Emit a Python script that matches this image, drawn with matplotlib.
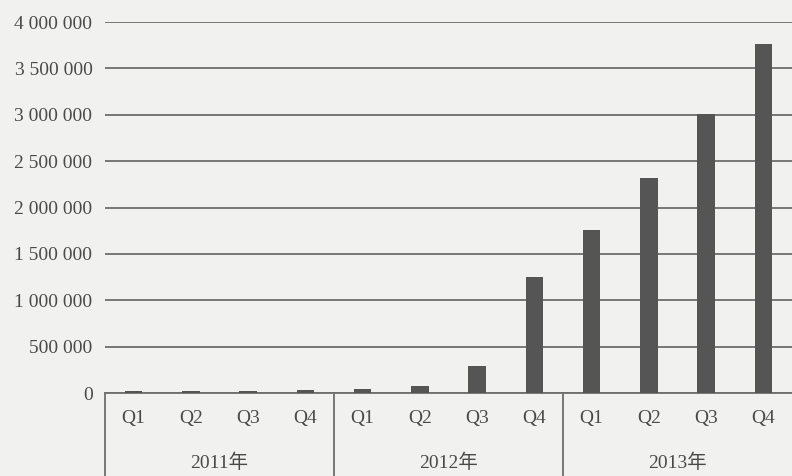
import matplotlib.pyplot as plt
from matplotlib.ticker import FuncFormatter

# data
years = ['2011年', '2012年', '2013年']
quarters = ['Q1', 'Q2', 'Q3', 'Q4']
values = [20000, 20000, 20000, 30000,
          43000, 75000, 295000, 1250000,
          1755000, 2315000, 3005000, 3760000]

bg = '#f1f1f0'
bar_color = '#555555'
line_color = '#6e6e6e'
text_color = '#4a4a4a'
font = ['Liberation Serif', 'Noto Sans CJK SC']
fs = 14

fig = plt.figure(figsize=(7.92, 4.76), dpi=100, facecolor=bg)
ax = fig.add_axes([105 / 792, 83 / 476, 687 / 792, 371 / 476], facecolor=bg)

x = list(range(len(values)))
ax.bar(x, values, width=0.31, color=bar_color, zorder=3)

ax.set_xlim(-0.5, len(values) - 0.5)
ax.set_ylim(0, 4000000)
ax.set_yticks(range(0, 4000001, 500000))
ax.yaxis.set_major_formatter(FuncFormatter(lambda v, p: f'{v:,.0f}'.replace(',', ' ')))
ax.grid(axis='y', color=line_color, linewidth=1.3, zorder=1)
ax.tick_params(axis='y', length=0, pad=9, labelsize=fs, labelcolor=text_color)
for lab in ax.get_yticklabels():
    lab.set_family(font)

ax.set_xticks(x)
ax.set_xticklabels(quarters * len(years), family=font, fontsize=fs, color=text_color)
ax.tick_params(axis='x', length=0, pad=12)

for s in ['top', 'right', 'left']:
    ax.spines[s].set_visible(False)
ax.spines['bottom'].set_color(line_color)
ax.spines['bottom'].set_linewidth(1.3)
ax.spines['bottom'].set_zorder(1)

# group separators and year labels below the axis
tr = ax.get_xaxis_transform()
depth = -83 / 371
for i in range(len(years)):
    left = i * 4 - 0.5
    ax.plot([left, left], [0, depth], color=line_color, linewidth=1.3,
            transform=tr, clip_on=False)
    ax.text(left + 2, -70 / 371, years[i], transform=tr, ha='center', va='center',
            family=font, fontsize=fs, color=text_color)

plt.savefig('out.png', dpi=100, facecolor=bg)
